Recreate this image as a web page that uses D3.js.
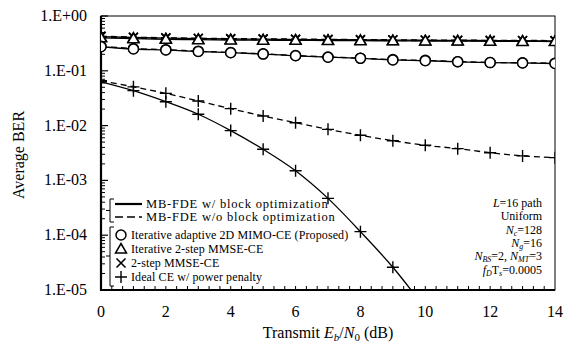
<!DOCTYPE html>
<html>
<head>
<meta charset="utf-8">
<script src="https://cdn.jsdelivr.net/npm/d3@7/dist/d3.min.js"></script>
<style>
  body { margin: 0; background: #fff; }
</style>
</head>
<body>
<div id="chart"></div>
<script>
// Eb/N0 (dB)
const snr = [0, 1, 2, 3, 4, 5, 6, 7, 8, 9, 10, 11, 12, 13, 14];

// Iterative adaptive 2D MIMO-CE (Proposed)
const circSolid = [0.275, 0.25, 0.24, 0.225, 0.214, 0.202, 0.188, 0.177, 0.169, 0.158, 0.153, 0.146, 0.141, 0.139, 0.136];
const circDash  = [0.28, 0.255, 0.243, 0.228, 0.216, 0.204, 0.19, 0.179, 0.17, 0.16, 0.155, 0.147, 0.142, 0.14, 0.138];
// Iterative 2-step MMSE-CE
const triSolid = [0.40, 0.385, 0.375, 0.37, 0.365, 0.362, 0.36, 0.357, 0.355, 0.352, 0.35, 0.348, 0.346, 0.344, 0.342];
const triDash  = [0.41, 0.395, 0.385, 0.378, 0.372, 0.368, 0.365, 0.362, 0.36, 0.357, 0.355, 0.353, 0.351, 0.349, 0.347];
// 2-step MMSE-CE
const xSolid = [0.42, 0.405, 0.395, 0.388, 0.382, 0.378, 0.374, 0.37, 0.367, 0.364, 0.361, 0.358, 0.356, 0.354, 0.352];
const xDash  = [0.43, 0.412, 0.4, 0.393, 0.387, 0.383, 0.379, 0.375, 0.371, 0.368, 0.365, 0.362, 0.36, 0.358, 0.356];
// Ideal CE w/ power penalty
const plusSolid = [0.063, 0.0434, 0.0273, 0.0161, 0.0081, 0.0037, 0.0015, 0.00047, 0.000116, 0.000026, 0.0000046];
const plusDash  = [0.066, 0.051, 0.0388, 0.0281, 0.0204, 0.015, 0.0113, 0.00855, 0.00665, 0.0053, 0.00437, 0.0038, 0.0032, 0.0028, 0.0026];

const yTickLabels = ["1.E+00", "1.E-01", "1.E-02", "1.E-03", "1.E-04", "1.E-05"];
const xTickLabels = [0, 2, 4, 6, 8, 10, 12, 14];

const W = 574, H = 347;
const L = 101, R = 555, T = 16, B = 290;

const svg = d3.select("#chart").append("svg")
  .attr("width", W).attr("height", H)
  .attr("font-family", "'Liberation Serif', 'Times New Roman', serif");

const x = d3.scaleLinear().domain([0, 14]).range([L, R]);
const y = d3.scaleLog().domain([1e-5, 1]).range([B, T]);

svg.append("clipPath").attr("id", "clip")
  .append("rect").attr("x", L).attr("y", T).attr("width", R - L).attr("height", B - T);

// frame (top/right thin)
svg.append("rect").attr("x", L).attr("y", T).attr("width", R - L).attr("height", B - T)
  .attr("fill", "none").attr("stroke", "#000").attr("stroke-width", 1);

// left axis ticks (inward)
const yMajor = yTickLabels.map((d, i) => Math.pow(10, -i));
const yMinor = [];
for (let e = -5; e < 0; e++) for (let m = 2; m <= 9; m++) yMinor.push(m * Math.pow(10, e));
svg.append("g").selectAll("line").data(yMinor).join("line")
  .attr("x1", L).attr("x2", L + 4).attr("y1", d => y(d)).attr("y2", d => y(d))
  .attr("stroke", "#000").attr("stroke-width", 1);
svg.append("g").selectAll("line").data(yMajor).join("line")
  .attr("x1", L).attr("x2", L + 7).attr("y1", d => y(d)).attr("y2", d => y(d))
  .attr("stroke", "#000").attr("stroke-width", 1.2);
svg.append("g").selectAll("text").data(yMajor).join("text")
  .attr("x", L - 14).attr("y", d => y(d) + 5)
  .attr("text-anchor", "end").attr("font-size", 16)
  .text((d, i) => yTickLabels[i]);

// bottom axis ticks (inward)
const xMinor = d3.range(0, 42).map(i => i / 3);
svg.append("g").selectAll("line").data(xMinor).join("line")
  .attr("x1", d => x(d)).attr("x2", d => x(d)).attr("y1", B).attr("y2", B - 4)
  .attr("stroke", "#000").attr("stroke-width", 1);
svg.append("g").selectAll("text").data(xTickLabels).join("text")
  .attr("x", d => x(d)).attr("y", B + 27)
  .attr("text-anchor", "middle").attr("font-size", 16)
  .text(d => d);

// thick left/bottom axis lines
svg.append("line").attr("x1", L).attr("x2", L).attr("y1", T).attr("y2", B + 1)
  .attr("stroke", "#000").attr("stroke-width", 2.2);
svg.append("line").attr("x1", L - 1).attr("x2", R).attr("y1", B).attr("y2", B)
  .attr("stroke", "#000").attr("stroke-width", 2.2);

// axis titles
const xt = svg.append("text").attr("x", 328).attr("y", 338)
  .attr("text-anchor", "middle").attr("font-size", 16);
xt.append("tspan").text("Transmit ");
xt.append("tspan").attr("font-style", "italic").text("E");
xt.append("tspan").attr("font-style", "italic").attr("font-size", 11).attr("dy", 3).text("b");
xt.append("tspan").attr("dy", -3).text("/");
xt.append("tspan").attr("font-style", "italic").text("N");
xt.append("tspan").attr("font-size", 11).attr("dy", 3).text("0");
xt.append("tspan").attr("dy", -3).text(" (dB)");

svg.append("text").attr("transform", "translate(24,155) rotate(-90)")
  .attr("text-anchor", "middle").attr("font-size", 16).text("Average BER");

// series
const plot = svg.append("g").attr("clip-path", "url(#clip)");
const series = [
  { v: xDash, dash: true, m: "x" }, { v: xSolid, dash: false, m: "x" },
  { v: triDash, dash: true, m: "tri" }, { v: triSolid, dash: false, m: "tri" },
  { v: circDash, dash: true, m: "circ" }, { v: circSolid, dash: false, m: "circ" },
  { v: plusDash, dash: true, m: "plus" }, { v: plusSolid, dash: false, m: "plus" }
];
const line = d3.line().x(d => x(d[0])).y(d => y(d[1])).curve(d3.curveMonotoneX);

series.forEach(s => {
  const pts = s.v.map((v, i) => [snr[i], v]);
  plot.append("path").datum(pts)
    .attr("fill", "none").attr("stroke", "#000").attr("stroke-width", 1.3)
    .attr("stroke-dasharray", s.dash ? "6,4" : null)
    .attr("d", line);
});

function marker(g, m, cx, cy) {
  if (m === "circ") {
    g.append("circle").attr("cx", cx).attr("cy", cy).attr("r", 5)
      .attr("fill", "#fff").attr("stroke", "#000").attr("stroke-width", 1.5);
  } else if (m === "tri") {
    g.append("path").attr("d", `M${cx},${cy - 5.5}L${cx + 5.5},${cy + 4}L${cx - 5.5},${cy + 4}Z`)
      .attr("fill", "#fff").attr("stroke", "#000").attr("stroke-width", 1.5);
  } else if (m === "x") {
    g.append("path").attr("d", `M${cx - 4.5},${cy - 4.5}L${cx + 4.5},${cy + 4.5}M${cx - 4.5},${cy + 4.5}L${cx + 4.5},${cy - 4.5}`)
      .attr("stroke", "#000").attr("stroke-width", 1.6);
  } else {
    g.append("path").attr("d", `M${cx - 6},${cy}L${cx + 6},${cy}M${cx},${cy - 6}L${cx},${cy + 6}`)
      .attr("stroke", "#000").attr("stroke-width", 1.4);
  }
}

series.forEach(s => {
  s.v.forEach((v, i) => {
    if (v >= 1e-5) marker(plot, s.m, x(snr[i]), y(v));
  });
});

// legend: line styles
const lg = svg.append("g");
const lineRows = [{ t: "MB-FDE w/ block optimization", dash: false, yy: 204 },
                  { t: "MB-FDE w/o block optimization", dash: true, yy: 217 }];
lg.append("path").attr("d", "M114,199H110V222H114M110,210.5H106")
  .attr("fill", "none").attr("stroke", "#000").attr("stroke-width", 1);
lineRows.forEach(r => {
  lg.append("line").attr("x1", 115).attr("x2", 142).attr("y1", r.yy).attr("y2", r.yy)
    .attr("stroke", "#000").attr("stroke-width", r.dash ? 1.3 : 2.2)
    .attr("stroke-dasharray", r.dash ? "8,4" : null);
  lg.append("text").attr("x", 146).attr("y", r.yy + 4)
    .attr("font-size", 12.5).attr("letter-spacing", 0.8).text(r.t);
});

// legend: markers
const markRows = [{ t: "Iterative adaptive 2D MIMO-CE (Proposed)", m: "circ", yy: 235 },
                  { t: "Iterative 2-step MMSE-CE", m: "tri", yy: 249 },
                  { t: "2-step MMSE-CE", m: "x", yy: 263 },
                  { t: "Ideal CE w/ power penalty", m: "plus", yy: 277 }];
lg.append("path").attr("d", "M114,227H110V286H114M110,256H106")
  .attr("fill", "none").attr("stroke", "#000").attr("stroke-width", 1);
markRows.forEach(r => {
  marker(lg, r.m, 121, r.yy);
  lg.append("text").attr("x", 131).attr("y", r.yy + 4)
    .attr("font-size", 12).attr("letter-spacing", 0.1).text(r.t);
});

// parameters annotation
const ann = svg.append("g").attr("font-size", 12).attr("text-anchor", "end");
const annX = 542;
function annRow(yy, parts) {
  const t = ann.append("text").attr("x", annX).attr("y", yy);
  parts.forEach(p => {
    const ts = t.append("tspan").text(p[0]);
    if (p[1] === "i") ts.attr("font-style", "italic");
    if (p[1] === "s") ts.attr("font-style", "italic").attr("font-size", 8).attr("dy", 2);
    if (p[1] === "u") ts.attr("dy", -2);
  });
}
annRow(207, [["L", "i"], ["=16 path"]]);
annRow(220, [["Uniform"]]);
annRow(234, [["N", "i"], ["c", "s"], ["=128", "u"]]);
annRow(247, [["N", "i"], ["g", "s"], ["=16", "u"]]);
annRow(260, [["N", "i"], ["BS", "s"], ["=2, ", "u"], ["N", "i"], ["MT", "s"], ["=3", "u"]]);
annRow(274, [["f", "i"], ["D", "s"], ["T", "u"], ["s", "s"], ["=0.0005", "u"]]);
</script>
</body>
</html>
